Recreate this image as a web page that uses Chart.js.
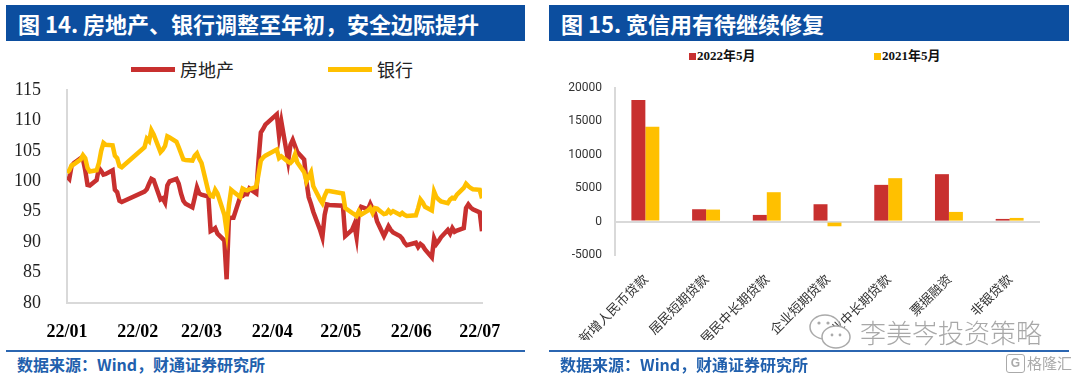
<!DOCTYPE html>
<html>
<head>
<meta charset="utf-8">
<script src="https://cdn.jsdelivr.net/npm/chart.js@4.4.0/dist/chart.umd.min.js"></script>
<style>
body{margin:0;width:1080px;height:377px;background:#fff;position:relative;overflow:hidden;font-family:"Noto Sans CJK SC",sans-serif}
.bar{position:absolute;top:5px;height:36px;background:#0c4e9f;color:#fff;font-weight:bold;font-size:22px;line-height:36px;padding-left:12px;box-sizing:border-box;white-space:nowrap}
.src{position:absolute;top:350px;height:26px;border-top:2px solid #2b66b1;color:#2160ad;font-size:16px;font-weight:bold;padding-left:11px;box-sizing:border-box;line-height:24px;white-space:nowrap}
canvas{position:absolute}
.lg{position:absolute;white-space:nowrap}
</style>
</head>
<body>
<div class="bar" style="left:6px;width:519px">图 14. 房地产、银行调整至年初，安全边际提升</div>
<div class="bar" style="left:549px;width:520px">图 15. 宽信用有待继续修复</div>

<div class="lg" style="left:131px;top:67px;width:44px;height:5px;background:#c8302f"></div>
<div class="lg" style="left:180px;top:57px;font-size:18px;line-height:24px;color:#222">房地产</div>
<div class="lg" style="left:328px;top:67px;width:44px;height:5px;background:#ffc000"></div>
<div class="lg" style="left:377px;top:57px;font-size:18px;line-height:24px;color:#222">银行</div>

<div class="lg" style="left:689px;top:53px;width:7px;height:7px;background:#c8302f"></div>
<div class="lg" style="left:697px;top:47px;font:bold 13px 'Liberation Serif','Noto Sans CJK SC';line-height:18px;color:#111">2022年5月</div>
<div class="lg" style="left:874px;top:53px;width:7px;height:7px;background:#ffc000"></div>
<div class="lg" style="left:882px;top:47px;font:bold 13px 'Liberation Serif','Noto Sans CJK SC';line-height:18px;color:#111">2021年5月</div>

<canvas id="left" width="540" height="290" style="left:0;top:50px"></canvas>
<canvas id="right" width="540" height="300" style="left:540px;top:40px"></canvas>

<svg class="lg" style="left:808px;top:310px" width="46" height="44" viewBox="0 0 46 44">
  <ellipse cx="17" cy="17" rx="15" ry="12" fill="none" stroke="#aaa" stroke-width="1.5"/>
  <ellipse cx="28" cy="27" rx="14" ry="11" fill="#fff" stroke="#aaa" stroke-width="1.5"/>
  <circle cx="11" cy="13" r="1.6" fill="#aaa"/><circle cx="20" cy="13" r="1.6" fill="#aaa"/>
  <circle cx="24" cy="25" r="1.4" fill="#aaa"/><circle cx="32" cy="25" r="1.4" fill="#aaa"/>
</svg>
<div class="lg" style="left:860px;top:314px;font-size:26px;line-height:36px;color:#a8a8a8;font-weight:300">李美岑投资策略</div>

<div class="src" style="left:6px;width:519px">数据来源：Wind，财通证券研究所</div>
<div class="src" style="left:549px;width:520px">数据来源：Wind，财通证券研究所</div>
<div class="lg" style="left:1006px;top:354px;width:17px;height:17px;border:1.5px solid #aaa;border-radius:3px;font:bold 12px 'Liberation Sans';color:#aaa;text-align:center;line-height:17px">G</div>
<div class="lg" style="left:1027px;top:352px;font-size:15px;line-height:22px;color:#aaa">格隆汇</div>

<script>
// 图14: trading days Jan 4 - Jul 5 2022
const dates = [
  '01-04','01-05','01-06','01-07','01-10','01-11','01-12','01-13','01-14','01-17','01-18','01-19','01-20','01-21','01-24','01-25','01-26','01-27','01-28',
  '02-07','02-08','02-09','02-10','02-11','02-14','02-15','02-16','02-17','02-18','02-21','02-22','02-23','02-24','02-25','02-28',
  '03-01','03-02','03-03','03-04','03-07','03-08','03-09','03-10','03-11','03-14','03-15','03-16','03-17','03-18','03-21','03-22','03-23','03-24','03-25','03-28','03-29','03-30','03-31',
  '04-01','04-06','04-07','04-08','04-11','04-12','04-13','04-14','04-15','04-18','04-19','04-20','04-21','04-22','04-25','04-26','04-27','04-28','04-29',
  '05-05','05-06','05-09','05-10','05-11','05-12','05-13','05-16','05-17','05-18','05-19','05-20','05-23','05-24','05-25','05-26','05-27','05-30','05-31',
  '06-01','06-02','06-06','06-07','06-08','06-09','06-10','06-13','06-14','06-15','06-16','06-17','06-20','06-21','06-22','06-23','06-24','06-27','06-28','06-29','06-30',
  '07-01','07-04','07-05'
];
const realEstate = [
  100.8,100.4,102.5,103.0,103.8,103.6,101.8,99.4,99.3,100.2,102.2,101.7,101.1,101.2,101.8,98.6,98.2,96.8,96.6,
  98.3,98.7,99.6,100.4,100.2,97.0,97.2,96.5,99.3,100.0,100.4,99.6,98.0,96.8,96.3,95.7,
  97.3,99.0,98.0,97.8,97.5,91.8,92.0,92.3,91.4,90.3,83.9,93.8,94.0,94.0,97.5,97.6,98.0,97.9,98.8,98.0,103.5,108.0,108.6,
  109.3,111.0,107.5,109.8,103.3,106.0,106.8,105.8,104.8,103.6,100.0,97.4,96.3,95.0,92.0,90.8,94.5,96.2,96.1,
  96.0,91.0,92.0,92.9,90.8,95.0,95.8,95.4,96.3,95.5,94.8,93.4,91.0,91.8,92.6,92.0,91.6,91.0,90.6,
  89.9,89.5,89.9,89.2,89.7,89.4,88.8,87.5,90.6,89.7,90.2,90.8,92.0,91.4,92.3,91.7,91.9,92.3,95.6,96.2,95.7,
  95.4,94.9,91.8
];
const banks = [
  101.4,101.8,102.6,102.8,103.6,104.3,103.8,102.2,101.6,101.8,103.0,105.0,106.3,106.0,105.9,104.2,103.8,102.5,102.3,
  105.6,107.0,106.6,108.4,107.7,104.8,105.2,105.8,107.4,107.2,106.5,105.6,104.6,103.6,103.5,103.4,
  104.2,104.6,103.7,103.0,98.3,97.6,97.5,98.6,98.0,94.5,91.8,96.0,98.6,98.3,97.4,98.8,98.6,98.5,98.7,99.1,101.2,103.4,103.9,
  104.2,105.2,103.8,104.1,103.2,103.0,103.4,104.4,103.1,101.5,100.0,100.8,101.5,99.2,97.0,96.4,97.6,98.4,98.4,
  98.0,95.6,94.8,94.6,94.3,95.1,94.5,95.2,95.6,94.8,95.6,95.5,94.6,94.7,95.2,94.8,95.1,94.5,94.8,
  94.5,94.3,94.4,95.6,97.0,96.5,95.8,95.2,98.3,97.4,97.0,96.7,96.4,97.0,97.3,97.2,97.8,98.9,99.6,99.2,98.9,
  98.7,98.6,97.2
];
const monthTicks = ['01-04','02-04','03-04','04-04','05-04','06-04','07-04'];
const monthLabels = ['22/01','22/02','22/03','22/04','22/05','22/06','22/07'];

// 图15
const loanCats = ['新增人民币贷款','居民短期贷款','居民中长期贷款','企业短期贷款','企业中长期贷款','票据融资','非银贷款'];
const may2022 = [18200, 1850, 1000, 2600, 5500, 7100, 400];
const may2021 = [14200, 1800, 4400, -700, 6500, 1450, 550];

const RED = '#c8302f', YELLOW = '#ffc000', AXIS = '#d9d9d9';

const dayOf = s => {
  const [m, d] = s.split('-').map(Number);
  return (Date.UTC(2022, m - 1, d) - Date.UTC(2022, 0, 4)) / 86400000;
};
const xs = dates.map(dayOf);
const tickDays = monthTicks.map(dayOf);

new Chart(document.getElementById('left'), {
  type: 'line',
  data: {
    datasets: [
      { label: '房地产', data: xs.map((x, i) => ({ x, y: realEstate[i] })), borderColor: RED, borderWidth: 4.5, pointRadius: 0, order: 1 },
      { label: '银行', data: xs.map((x, i) => ({ x, y: banks[i] })), borderColor: YELLOW, borderWidth: 4.5, pointRadius: 0, order: 0 }
    ]
  },
  options: {
    responsive: false,
    animation: false,
    devicePixelRatio: 1,
    layout: { padding: { left: 0, right: 58, top: 40, bottom: 0 } },
    plugins: { legend: { display: false }, tooltip: { enabled: false } },
    scales: {
      x: {
        type: 'linear', min: 0, max: dayOf('07-05'),
        afterBuildTicks: s => { s.ticks = tickDays.map(v => ({ value: v })); },
        afterFit: s => { s.height = 37; },
        grid: { display: false },
        border: { color: AXIS, width: 2 },
        ticks: {
          padding: 11, color: '#000', font: { family: 'Liberation Serif', size: 18, weight: 'bold' },
          callback: v => monthLabels[tickDays.indexOf(v)]
        }
      },
      y: {
        min: 80, max: 115,
        afterFit: s => { s.width = 67; },
        grid: { display: false },
        border: { color: AXIS, width: 2 },
        ticks: { stepSize: 5, padding: 18, color: '#222', font: { family: 'Liberation Serif', size: 18 } }
      }
    }
  }
});

new Chart(document.getElementById('right'), {
  type: 'bar',
  data: {
    labels: loanCats,
    datasets: [
      { label: '2022年5月', data: may2022, backgroundColor: RED },
      { label: '2021年5月', data: may2021, backgroundColor: YELLOW }
    ]
  },
  options: {
    responsive: false,
    animation: false,
    devicePixelRatio: 1,
    layout: { padding: { left: 0, right: 40, top: 48, bottom: 0 } },
    plugins: { legend: { display: false }, tooltip: { enabled: false } },
    datasets: { bar: { categoryPercentage: 0.46, barPercentage: 1 } },
    scales: {
      x: {
        afterFit: s => { s.height = 85; },
        grid: { display: false },
        border: { display: false },
        ticks: {
          autoSkip: false, minRotation: 45, maxRotation: 45, padding: 8, color: '#333',
          font: { family: 'Noto Sans CJK SC', size: 13 }
        }
      },
      y: {
        min: -5000, max: 20000,
        afterFit: s => { s.width = 75; },
        grid: { drawTicks: false, lineWidth: 2, color: c => c.tick && c.tick.value === 0 ? AXIS : 'transparent' },
        border: { color: AXIS, width: 2 },
        ticks: { stepSize: 5000, padding: 13, color: '#333', font: { family: 'Roboto', size: 12 }, callback: v => String(v) }
      }
    }
  }
});
</script>
</body>
</html>
